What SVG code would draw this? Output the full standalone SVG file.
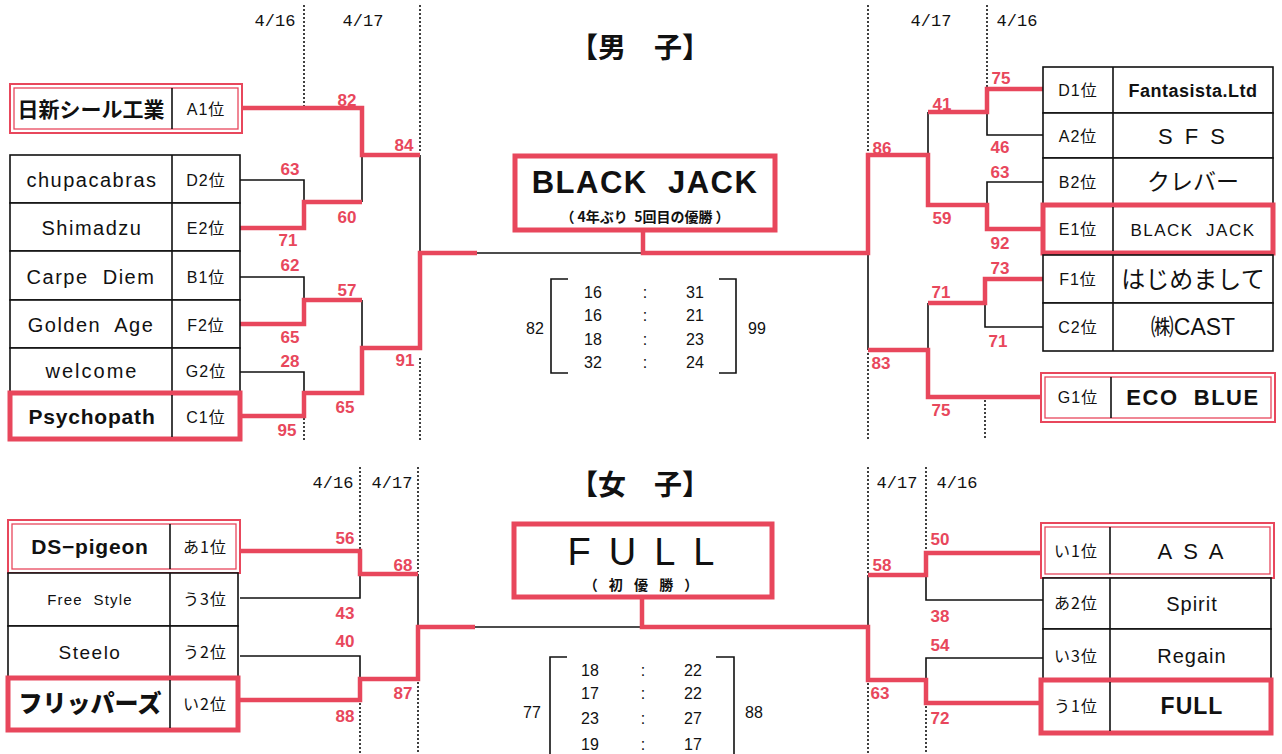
<svg xmlns="http://www.w3.org/2000/svg" width="1282" height="754" viewBox="0 0 1282 754">
<style>
.bg{fill:#fff}
.cell{fill:#fff;stroke:#111;stroke-width:1.6}
.div{stroke:#111;stroke-width:1.6}
.rb{fill:none;stroke:#e8475c;stroke-width:5}
.rd{fill:none;stroke:#e8475c;stroke-width:2}
.rd2{fill:none;stroke:#e8475c;stroke-width:1.3}
.bl{fill:none;stroke:#111;stroke-width:1.6}
.rl{fill:none;stroke:#e8475c;stroke-width:4.5}
.dot{stroke:#111;stroke-width:1.6;stroke-dasharray:2 2}
text{font-family:"Liberation Sans","Noto Sans CJK JP",sans-serif;fill:#111;text-anchor:middle;white-space:pre}
.nm{font-size:20px;letter-spacing:1.5px}
.nb{font-size:20px;font-weight:bold;letter-spacing:0.8px}
.rk{font-size:16px;letter-spacing:1px}
.sc{font-size:17px;font-weight:bold;fill:#e8475c}
.dt{font-size:17px;font-family:"Liberation Mono","Noto Sans CJK JP",monospace}
.ttl{font-size:28px;font-weight:bold;font-family:"Noto Sans CJK JP",sans-serif}
.num{font-size:16px}
</style>
<rect class="bg" width="1282" height="754"/>

<!-- dates -->
<g id="dates">
<text class="dt" x="275" y="26">4/16</text>
<text class="dt" x="363" y="26">4/17</text>
<text class="dt" x="931" y="26">4/17</text>
<text class="dt" x="1017" y="26">4/16</text>
<text class="dt" x="333" y="488">4/16</text>
<text class="dt" x="392" y="488">4/17</text>
<text class="dt" x="897" y="488">4/17</text>
<text class="dt" x="957" y="488">4/16</text>
</g>

<!-- dotted guides -->
<g id="guides">
<line class="dot" x1="304" y1="5" x2="304" y2="106"/>
<line class="dot" x1="420" y1="5" x2="420" y2="153"/>
<line class="dot" x1="304" y1="418" x2="304" y2="440"/>
<line class="dot" x1="420" y1="358" x2="420" y2="440"/>
<line class="dot" x1="868" y1="5" x2="868" y2="153"/>
<line class="dot" x1="987" y1="5" x2="987" y2="87"/>
<line class="dot" x1="868" y1="353" x2="868" y2="440"/>
<line class="dot" x1="985" y1="400" x2="985" y2="440"/>
<line class="dot" x1="360" y1="467" x2="360" y2="549"/>
<line class="dot" x1="418" y1="467" x2="418" y2="572"/>
<line class="dot" x1="360" y1="703" x2="360" y2="754"/>
<line class="dot" x1="418" y1="682" x2="418" y2="754"/>
<line class="dot" x1="868" y1="467" x2="868" y2="573"/>
<line class="dot" x1="926" y1="467" x2="926" y2="551"/>
<line class="dot" x1="868" y1="683" x2="868" y2="754"/>
<line class="dot" x1="926" y1="706" x2="926" y2="754"/>
</g>

<!-- titles -->
<g id="titles">
<text class="ttl" x="640" y="58">【男　子】</text>
<text class="ttl" x="640" y="495">【女　子】</text>
</g>

<!-- connectors -->
<g id="connectors">
<polyline class="bl" points="240,180 304,180 304,202"/>
<polyline class="bl" points="240,277 304,277 304,300"/>
<polyline class="bl" points="240,372 304,372 304,393"/>
<polyline class="bl" points="362,155 362,202"/>
<polyline class="bl" points="362,300 362,348"/>
<polyline class="bl" points="420,155 420,252"/>
<polyline class="bl" points="477,253 643,253"/>
<polyline class="rl" points="242,108 362,108 362,155 420,155"/>
<polyline class="rl" points="240,228 304,228 304,202 362,202"/>
<polyline class="rl" points="240,324 304,324 304,300 362,300"/>
<polyline class="rl" points="240,416 304,416 304,393 362,393 362,348 420,348 420,253 477,253"/>
<polyline class="bl" points="1043,135 987,135 987,112"/>
<polyline class="bl" points="1043,182 987,182 987,205"/>
<polyline class="bl" points="928,112 928,155"/>
<polyline class="bl" points="1043,327 985,327 985,303"/>
<polyline class="bl" points="928,303 928,350"/>
<polyline class="bl" points="868,253 868,350"/>
<polyline class="rl" points="1043,89 987,89 987,112 928,112"/>
<polyline class="rl" points="1043,229 987,229 987,205 928,205 928,155 868,155 868,253 643,253 643,232"/>
<polyline class="rl" points="1043,279 985,279 985,303 928,303"/>
<polyline class="rl" points="1041,397 928,397 928,350 868,350"/>
<polyline class="bl" points="240,598 360,598 360,574"/>
<polyline class="bl" points="240,656 360,656 360,679"/>
<polyline class="bl" points="418,574 418,626"/>
<polyline class="bl" points="475,627 642,627"/>
<polyline class="rl" points="240,551 360,551 360,574 418,574"/>
<polyline class="rl" points="240,700 360,700 360,679 418,679 418,627 475,627"/>
<polyline class="bl" points="1043,600 926,600 926,575"/>
<polyline class="bl" points="1043,658 926,658 926,680"/>
<polyline class="bl" points="868,575 868,627"/>
<polyline class="rl" points="1041,553 926,553 926,575 868,575"/>
<polyline class="rl" points="1041,703 926,703 926,680 868,680 868,627 642,627 642,598"/>
</g>

<!-- scores -->
<g id="scores">
<text class="sc" x="347" y="106">82</text>
<text class="sc" x="404" y="151">84</text>
<text class="sc" x="290" y="175">63</text>
<text class="sc" x="347" y="223">60</text>
<text class="sc" x="288" y="246">71</text>
<text class="sc" x="290" y="271">62</text>
<text class="sc" x="347" y="296">57</text>
<text class="sc" x="290" y="343">65</text>
<text class="sc" x="290" y="367">28</text>
<text class="sc" x="405" y="366">91</text>
<text class="sc" x="345" y="413">65</text>
<text class="sc" x="287" y="436">95</text>

<text class="sc" x="1001" y="84">75</text>
<text class="sc" x="942" y="110">41</text>
<text class="sc" x="1000" y="153">46</text>
<text class="sc" x="882" y="154">86</text>
<text class="sc" x="1000" y="178">63</text>
<text class="sc" x="942" y="224">59</text>
<text class="sc" x="1000" y="249">92</text>
<text class="sc" x="1000" y="274">73</text>
<text class="sc" x="941" y="298">71</text>
<text class="sc" x="998" y="347">71</text>
<text class="sc" x="881" y="369">83</text>
<text class="sc" x="941" y="416">75</text>

<text class="sc" x="345" y="544">56</text>
<text class="sc" x="403" y="571">68</text>
<text class="sc" x="345" y="619">43</text>
<text class="sc" x="345" y="647">40</text>
<text class="sc" x="403" y="699">87</text>
<text class="sc" x="345" y="722">88</text>

<text class="sc" x="940" y="545">50</text>
<text class="sc" x="882" y="571">58</text>
<text class="sc" x="940" y="622">38</text>
<text class="sc" x="940" y="651">54</text>
<text class="sc" x="880" y="699">63</text>
<text class="sc" x="940" y="724">72</text>
</g>

<!-- men left teams -->
<g id="m-nisshin">
<rect x="10" y="84" width="232" height="49" class="rd"/>
<rect x="14" y="88" width="224" height="41" class="rd2"/>
<line class="div" x1="172" y1="88" x2="172" y2="129"/>
<text class="nb" x="91" y="117" style="font-family:'Noto Sans CJK JP',sans-serif;font-size:21px;letter-spacing:0">日新シール工業</text>
<text class="rk" x="206" y="115">A1位</text>
</g>
<g id="m-chupacabras">
<rect class="cell" x="10" y="155" width="230" height="48"/>
<line class="div" x1="172" y1="155" x2="172" y2="203"/>
<text class="nm" x="92" y="187">chupacabras</text>
<text class="rk" x="206" y="186">D2位</text>
</g>
<g id="m-shimadzu">
<rect class="cell" x="10" y="203" width="230" height="48"/>
<line class="div" x1="172" y1="203" x2="172" y2="251"/>
<text class="nm" x="92" y="235">Shimadzu</text>
<text class="rk" x="206" y="234">E2位</text>
</g>
<g id="m-carpe">
<rect class="cell" x="10" y="251" width="230" height="49"/>
<line class="div" x1="172" y1="251" x2="172" y2="300"/>
<text class="nm" x="91" y="284">Carpe  Diem</text>
<text class="rk" x="206" y="283">B1位</text>
</g>
<g id="m-golden">
<rect class="cell" x="10" y="300" width="230" height="48"/>
<line class="div" x1="172" y1="300" x2="172" y2="348"/>
<text class="nm" x="91" y="332">Golden  Age</text>
<text class="rk" x="206" y="331">F2位</text>
</g>
<g id="m-welcome">
<rect class="cell" x="10" y="348" width="230" height="45"/>
<line class="div" x1="172" y1="348" x2="172" y2="393"/>
<text class="nm" x="92" y="378" style="letter-spacing:2px">welcome</text>
<text class="rk" x="206" y="377">G2位</text>
</g>
<g id="m-psychopath">
<rect class="cell" x="10" y="393" width="230" height="46"/>
<rect class="rb" x="10" y="393" width="230" height="46"/>
<line class="div" x1="172" y1="395" x2="172" y2="437"/>
<text class="nb" x="92" y="424" style="font-size:21px">Psychopath</text>
<text class="rk" x="206" y="423">C1位</text>
</g>

<!-- men right teams -->
<g id="m-fantasista">
<rect class="cell" x="1043" y="67" width="230" height="46"/>
<line class="div" x1="1113" y1="67" x2="1113" y2="113"/>
<text class="rk" x="1078" y="96">D1位</text>
<text class="nb" x="1193" y="97" style="font-size:18px;letter-spacing:0.5px">Fantasista.Ltd</text>
</g>
<g id="m-sfs">
<rect class="cell" x="1043" y="113" width="230" height="45"/>
<line class="div" x1="1113" y1="113" x2="1113" y2="158"/>
<text class="rk" x="1078" y="142">A2位</text>
<text class="nm" x="1193" y="144" style="font-size:22px;letter-spacing:3px">S F S</text>
</g>
<g id="m-clever">
<rect class="cell" x="1043" y="158" width="230" height="47"/>
<line class="div" x1="1113" y1="158" x2="1113" y2="205"/>
<text class="rk" x="1078" y="188">B2位</text>
<text class="nm" x="1193" y="190" style="font-size:23px;font-family:'Noto Sans CJK JP',sans-serif;letter-spacing:0">クレバー</text>
</g>
<g id="m-blackjack">
<rect class="cell" x="1043" y="205" width="230" height="48"/>
<rect class="rb" x="1043" y="205" width="230" height="48"/>
<line class="div" x1="1113" y1="207" x2="1113" y2="251"/>
<text class="rk" x="1078" y="235">E1位</text>
<text class="nm" x="1193" y="236" style="font-size:17px;letter-spacing:1.5px">BLACK  JACK</text>
</g>
<g id="m-hajimemashite">
<rect class="cell" x="1043" y="255" width="230" height="48"/>
<line class="div" x1="1113" y1="255" x2="1113" y2="303"/>
<text class="rk" x="1078" y="285">F1位</text>
<text class="nm" x="1193" y="288" style="font-size:24px;font-family:'Noto Sans CJK JP',sans-serif;letter-spacing:0">はじめまして</text>
</g>
<g id="m-cast">
<rect class="cell" x="1043" y="303" width="230" height="48"/>
<line class="div" x1="1113" y1="303" x2="1113" y2="351"/>
<text class="rk" x="1078" y="333">C2位</text>
<text class="nm" x="1193" y="335" style="font-size:23px;letter-spacing:0">㈱CAST</text>
</g>
<g id="m-ecoblue">
<rect x="1041" y="373" width="234" height="49" class="rd"/>
<rect x="1045" y="377" width="226" height="41" class="rd2"/>
<line class="div" x1="1111" y1="377" x2="1111" y2="418"/>
<text class="rk" x="1078" y="403">G1位</text>
<text class="nb" x="1193" y="405" style="font-size:22px;letter-spacing:1.5px">ECO  BLUE</text>
</g>

<!-- men champion -->
<g id="m-champion">
<rect class="rb" x="515" y="156" width="260" height="74" style="fill:#fff"/>
<text x="645" y="193" style="font-size:31px;font-weight:bold;letter-spacing:1.5px">BLACK  JACK</text>
<text x="645" y="222" style="font-size:14px;font-weight:bold;font-family:'Noto Sans CJK JP',sans-serif">（ 4年ぶり  5回目の優勝 ）</text>
</g>

<!-- men score table -->
<g id="m-score">
<polyline class="bl" points="568,279 551,279 551,373 568,373"/>
<polyline class="bl" points="719,279 736,279 736,373 719,373"/>
<text class="num" x="535" y="334">82</text>
<text class="num" x="757" y="334">99</text>
<text class="num" x="593" y="298">16</text><text class="num" x="645" y="298">:</text><text class="num" x="695" y="298">31</text>
<text class="num" x="593" y="321">16</text><text class="num" x="645" y="321">:</text><text class="num" x="695" y="321">21</text>
<text class="num" x="593" y="345">18</text><text class="num" x="645" y="345">:</text><text class="num" x="695" y="345">23</text>
<text class="num" x="593" y="368">32</text><text class="num" x="645" y="368">:</text><text class="num" x="695" y="368">24</text>
</g>

<!-- women left teams -->
<g id="w-dspigeon">
<rect x="8" y="520" width="232" height="53" class="rd"/>
<rect x="12" y="524" width="224" height="45" class="rd2"/>
<line class="div" x1="170" y1="524" x2="170" y2="569"/>
<text class="nb" x="90" y="554" style="font-size:21px">DS−pigeon</text>
<text class="rk" x="205" y="553" style="font-family:'Noto Sans CJK JP',sans-serif">あ1位</text>
</g>
<g id="w-freestyle">
<rect class="cell" x="8" y="573" width="230" height="53"/>
<line class="div" x1="170" y1="573" x2="170" y2="626"/>
<text class="nm" x="90" y="605" style="font-size:15px;letter-spacing:1.2px">Free  Style</text>
<text class="rk" x="205" y="605" style="font-family:'Noto Sans CJK JP',sans-serif">う3位</text>
</g>
<g id="w-steelo">
<rect class="cell" x="8" y="626" width="230" height="52"/>
<line class="div" x1="170" y1="626" x2="170" y2="678"/>
<text class="nm" x="90" y="659" style="font-size:19px">Steelo</text>
<text class="rk" x="205" y="658" style="font-family:'Noto Sans CJK JP',sans-serif">う2位</text>
</g>
<g id="w-flippers">
<rect class="cell" x="8" y="678" width="230" height="52"/>
<rect class="rb" x="8" y="678" width="230" height="52"/>
<line class="div" x1="170" y1="680" x2="170" y2="728"/>
<text class="nb" x="90" y="712" style="font-size:24px;font-family:'Noto Sans CJK JP',sans-serif;font-weight:900;letter-spacing:0">フリッパーズ</text>
<text class="rk" x="205" y="710" style="font-family:'Noto Sans CJK JP',sans-serif">い2位</text>
</g>

<!-- women right teams -->
<g id="w-asa">
<rect x="1041" y="523" width="233" height="55" class="rd"/>
<rect x="1045" y="527" width="225" height="47" class="rd2"/>
<line class="div" x1="1110" y1="527" x2="1110" y2="574"/>
<text class="rk" x="1076" y="557" style="font-family:'Noto Sans CJK JP',sans-serif">い1位</text>
<text class="nm" x="1192" y="559" style="font-size:22px;letter-spacing:3px">A S A</text>
</g>
<g id="w-spirit">
<rect class="cell" x="1043" y="578" width="228" height="51"/>
<line class="div" x1="1110" y1="578" x2="1110" y2="629"/>
<text class="rk" x="1076" y="609" style="font-family:'Noto Sans CJK JP',sans-serif">あ2位</text>
<text class="nm" x="1192" y="611" style="letter-spacing:1px">Spirit</text>
</g>
<g id="w-regain">
<rect class="cell" x="1043" y="629" width="228" height="51"/>
<line class="div" x1="1110" y1="629" x2="1110" y2="680"/>
<text class="rk" x="1076" y="662" style="font-family:'Noto Sans CJK JP',sans-serif">い3位</text>
<text class="nm" x="1192" y="663" style="letter-spacing:1px">Regain</text>
</g>
<g id="w-full">
<rect class="cell" x="1041" y="680" width="230" height="53"/>
<rect class="rb" x="1041" y="680" width="230" height="53"/>
<line class="div" x1="1110" y1="682" x2="1110" y2="731"/>
<text class="rk" x="1076" y="712" style="font-family:'Noto Sans CJK JP',sans-serif">う1位</text>
<text class="nb" x="1192" y="714" style="font-size:23px;letter-spacing:1px">FULL</text>
</g>

<!-- women champion -->
<g id="w-champion">
<rect class="rb" x="514" y="524" width="258" height="73" style="fill:#fff"/>
<text x="650" y="565" style="font-size:38px;letter-spacing:18px">FULL</text>
<text x="643" y="590" style="font-size:14px;font-weight:bold;font-family:'Noto Sans CJK JP',sans-serif;letter-spacing:4px">（ 初 優 勝 ）</text>
</g>

<!-- women score table -->
<g id="w-score">
<polyline class="bl" points="567,657 550,657 550,760"/>
<polyline class="bl" points="716,657 734,657 734,760"/>
<text class="num" x="532" y="718">77</text>
<text class="num" x="754" y="718">88</text>
<text class="num" x="590" y="676">18</text><text class="num" x="643" y="676">:</text><text class="num" x="693" y="676">22</text>
<text class="num" x="590" y="699">17</text><text class="num" x="643" y="699">:</text><text class="num" x="693" y="699">22</text>
<text class="num" x="590" y="724">23</text><text class="num" x="643" y="724">:</text><text class="num" x="693" y="724">27</text>
<text class="num" x="590" y="750">19</text><text class="num" x="643" y="750">:</text><text class="num" x="693" y="750">17</text>
</g>
</svg>
